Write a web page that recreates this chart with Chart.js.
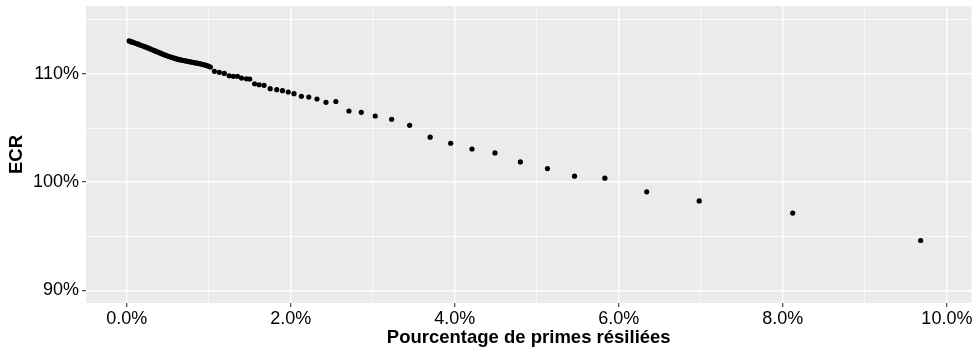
<!DOCTYPE html>
<html>
<head>
<meta charset="utf-8">
<script src="https://cdn.jsdelivr.net/npm/chart.js@4.4.0/dist/chart.umd.min.js"></script>
<style>
  html, body { margin: 0; padding: 0; background: #fff; }
  canvas { display: block; }
</style>
</head>
<body>
<canvas id="ecrChart" width="977" height="352"></canvas>
<script>
// % of premiums lapsed (x) and ECR (y), both in percent
const resilPct = [
  0.03, 0.05, 0.06, 0.08, 0.10, 0.12, 0.14, 0.16, 0.18, 0.20,
  0.22, 0.24, 0.26, 0.28, 0.30, 0.32, 0.34, 0.36, 0.38, 0.40,
  0.42, 0.44, 0.46, 0.48, 0.50, 0.52, 0.54, 0.56, 0.58, 0.60,
  0.62, 0.64, 0.66, 0.68, 0.70, 0.72, 0.74, 0.76, 0.78, 0.80,
  0.82, 0.84, 0.86, 0.88, 0.90, 0.92, 0.94, 0.96, 0.98, 1.00, 1.02,
  1.07, 1.13, 1.19, 1.25, 1.30, 1.35, 1.40, 1.46, 1.50,
  1.56, 1.615, 1.675, 1.75, 1.83, 1.90, 1.97, 2.04, 2.13, 2.22,
  2.32, 2.43, 2.55, 2.71, 2.86, 3.03, 3.23, 3.45, 3.70, 3.95,
  4.21, 4.49, 4.80, 5.13, 5.46, 5.83, 6.34, 6.98, 8.12, 9.68
];
const ecrPct = [
  113.06, 113.00, 112.97, 112.92, 112.87, 112.82, 112.76, 112.70, 112.64, 112.59,
  112.53, 112.47, 112.41, 112.34, 112.28, 112.22, 112.16, 112.09, 112.03, 111.97,
  111.90, 111.84, 111.78, 111.72, 111.66, 111.61, 111.56, 111.52, 111.47, 111.42,
  111.37, 111.33, 111.30, 111.27, 111.24, 111.21, 111.18, 111.15, 111.12, 111.09,
  111.06, 111.03, 111.00, 110.97, 110.94, 110.90, 110.86, 110.82, 110.77, 110.71, 110.64,
  110.25, 110.16, 110.06, 109.84, 109.79, 109.79, 109.63, 109.56, 109.54,
  109.10, 109.01, 108.96, 108.65, 108.55, 108.46, 108.34, 108.18, 107.94, 107.87,
  107.69, 107.38, 107.46, 106.58, 106.46, 106.12, 105.82, 105.26, 104.16, 103.60,
  103.07, 102.71, 101.87, 101.26, 100.56, 100.37, 99.11, 98.27, 97.14, 94.61
];

const xTicks = [0, 1, 2, 3, 4, 5, 6, 7, 8, 9, 10];
const xTickLabels = ['0.0%', '', '2.0%', '', '4.0%', '', '6.0%', '', '8.0%', '', '10.0%'];
const yTicks = [90, 95, 100, 105, 110, 115];
const yTickLabels = ['90%', '', '100%', '', '110%', ''];

Chart.defaults.font.family = '"Liberation Sans", Arial, sans-serif';
Chart.defaults.color = '#000';

// grey panel like ggplot
const panelBg = {
  id: 'panelBg',
  beforeDraw(chart) {
    const { ctx, chartArea: a } = chart;
    ctx.save();
    ctx.fillStyle = '#EBEBEB';
    ctx.fillRect(a.left, a.top, a.right - a.left, a.bottom - a.top);
    ctx.restore();
  }
};

const gridFor = (labels) => ({
  color: '#FFFFFF',
  lineWidth: (c) => labels[c.index] ? 1.4 : 0.7,
  tickColor: (c) => labels[c.index] ? '#333333' : 'rgba(0,0,0,0)',
  tickWidth: 1.1,
  tickLength: 4,
  drawTicks: true
});

// no extra room for half-labels, the layout padding does it
const noPad = (s) => {
  s.paddingTop = 0; s.paddingBottom = 0;
  s.paddingLeft = 0; s.paddingRight = 0;
};

const ctx = document.getElementById('ecrChart').getContext('2d');
const ecrChart = new Chart(ctx, {
  type: 'scatter',
  data: {
    datasets: [{
      data: resilPct.map((x, i) => ({ x: x, y: ecrPct[i] })),
      backgroundColor: '#000',
      borderWidth: 0,
      pointRadius: 2.6,
      pointHoverRadius: 2.6
    }]
  },
  options: {
    responsive: false,
    animation: false,
    layout: { padding: { top: 6, right: 5.5, left: 0, bottom: 0 } },
    plugins: { legend: { display: false }, tooltip: { enabled: false } },
    scales: {
      x: {
        type: 'linear',
        min: -0.496,
        max: 10.30,
        afterBuildTicks: (s) => { s.ticks = xTicks.map(v => ({ value: v })); },
        afterFit: (s) => { s.height = 49; noPad(s); },
        border: { display: false },
        grid: gridFor(xTickLabels),
        ticks: {
          autoSkip: false,
          maxRotation: 0,
          padding: 1,
          font: { size: 18 },
          callback: (v, i) => xTickLabels[i]
        },
        title: {
          display: true,
          text: 'Pourcentage de primes résiliées',
          font: { size: 18.5, weight: 'bold' },
          padding: { top: 0, bottom: 3 }
        }
      },
      y: {
        type: 'linear',
        min: 88.83,
        max: 116.29,
        afterBuildTicks: (s) => { s.ticks = yTicks.map(v => ({ value: v })); },
        afterFit: (s) => { s.width = 86; noPad(s); },
        border: { display: false },
        grid: gridFor(yTickLabels),
        ticks: {
          autoSkip: false,
          padding: 3,
          font: { size: 18 },
          callback: (v, i) => yTickLabels[i]
        },
        title: {
          display: true,
          text: 'ECR',
          font: { size: 18.5, weight: 'bold' },
          padding: { top: 6, bottom: 0 }
        }
      }
    }
  },
  plugins: [panelBg]
});
</script>
</body>
</html>
